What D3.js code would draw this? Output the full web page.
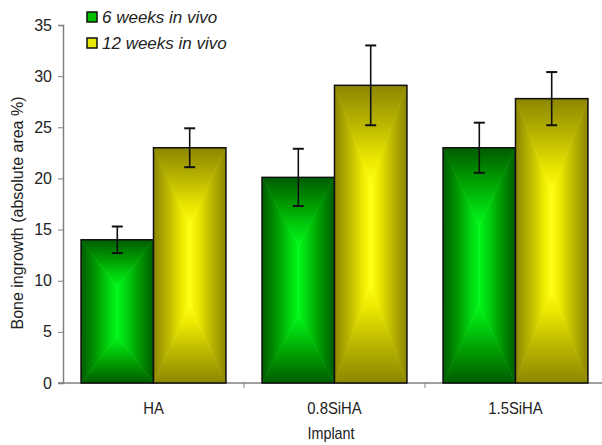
<!DOCTYPE html>
<html>
<head>
<meta charset="utf-8">
<script src="https://cdn.jsdelivr.net/npm/d3@7"></script>
<style>
  body { margin: 0; background: #fff; }
  svg { display: block; font-family: Arial, "Liberation Sans", sans-serif; }
</style>
</head>
<body>
<div id="chart"></div>
<script>
const categories = ['HA', '0.8SiHA', '1.5SiHA'];
const seriesNames = ['6 weeks in vivo', '12 weeks in vivo'];
const weeks6 = [14.0, 20.1, 23.0];
const weeks6Err = [1.3, 2.8, 2.45];
const weeks12 = [23.0, 29.1, 27.8];
const weeks12Err = [1.9, 3.9, 2.6];
const yTicks = [0, 5, 10, 15, 20, 25, 30, 35];

const width = 602, height = 445;
const margin = {left: 63, right: -4, top: 25, bottom: 62};

const svg = d3.select('#chart').append('svg')
    .attr('width', width)
    .attr('height', height);

// gradients: each bar is split in four regions, giving a rectangular "from centre" fill
const palettes = [
  {id: 'g', stops: ['#005c00', '#009c00', '#00d810', '#00f818']},
  {id: 'y', stops: ['#8c8600', '#bdb900', '#eeea00', '#ffff14']}
];
const stopAt = [0, 0.42, 0.78, 1];
const defs = svg.append('defs');
const dirs = {
  left: [0, 0, 1, 0], right: [1, 0, 0, 0],
  top: [0, 0, 0, 1], bottom: [0, 1, 0, 0]
};
palettes.forEach(p => {
  Object.entries(dirs).forEach(([k, v]) => {
    const gr = defs.append('linearGradient')
        .attr('id', `${p.id}-${k}`)
        .attr('x1', v[0]).attr('y1', v[1])
        .attr('x2', v[2]).attr('y2', v[3]);
    p.stops.forEach((c, i) => {
      gr.append('stop').attr('offset', stopAt[i]).attr('stop-color', c);
    });
  });
});

const x = d3.scaleBand()
    .domain(categories)
    .range([margin.left, width - margin.right])
    .paddingInner(0).paddingOuter(0);

const xSub = d3.scaleBand()
    .domain(d3.range(seriesNames.length))
    .range([0, x.bandwidth()])
    .paddingInner(0)
    .paddingOuter(0.25);

const y = d3.scaleLinear()
    .domain([0, 35])
    .range([height - margin.bottom, margin.top]);

// y axis
const yAxis = svg.append('g')
    .attr('transform', `translate(${margin.left},0)`)
    .call(d3.axisLeft(y).tickValues(yTicks).tickSize(5).tickPadding(6));
yAxis.select('.domain').attr('stroke', '#808080').attr('stroke-width', 1.5);
yAxis.selectAll('.tick line').attr('stroke', '#808080');
yAxis.selectAll('.tick text').attr('font-size', 16).attr('fill', '#222')
    .attr('font-family', 'Arial, "Liberation Sans", sans-serif');

// x axis with ticks at category boundaries
const xAxisG = svg.append('g')
    .attr('transform', `translate(0,${y(0)})`);
xAxisG.append('line')
    .attr('x1', margin.left - 5).attr('x2', width)
    .attr('stroke', '#808080').attr('stroke-width', 1.5);
xAxisG.selectAll('line.tk')
    .data(categories.slice(1))
    .join('line')
    .attr('class', 'tk')
    .attr('x1', d => x(d)).attr('x2', d => x(d))
    .attr('y1', 0).attr('y2', 5)
    .attr('stroke', '#808080');
xAxisG.selectAll('text')
    .data(categories)
    .join('text')
    .attr('transform', d => `translate(${x(d) + x.bandwidth() / 2},31) scale(0.93,1)`)
    .attr('text-anchor', 'middle')
    .attr('font-size', 16)
    .attr('fill', '#222')
    .text(d => d);

// axis titles
svg.append('text')
    .attr('transform', 'translate(331,439) scale(0.9,1)')
    .attr('text-anchor', 'middle')
    .attr('font-size', 16).attr('fill', '#222')
    .text('Implant');
svg.append('text')
    .attr('transform', `translate(23,${(y(0) + y(35)) / 2 + 9}) rotate(-90)`)
    .attr('text-anchor', 'middle')
    .attr('font-size', 16).attr('fill', '#222')
    .text('Bone ingrowth (absolute area %)');

// bars
const series = [
  {vals: weeks6, errs: weeks6Err, pal: 'g'},
  {vals: weeks12, errs: weeks12Err, pal: 'y'}
];
series.forEach((s, si) => {
  categories.forEach((c, ci) => {
    const bx = x(c) + xSub(si);
    const bw = xSub.bandwidth();
    const by = y(s.vals[ci]);
    const bh = y(0) - by;
    const cx = bw / 2;
    const a = bh * 0.33; // where the bright centre line starts and ends
    const g = svg.append('g').attr('transform', `translate(${bx},${by})`);
    const parts = [
      ['left', [[0, 0], [cx, a], [cx, bh - a], [0, bh]]],
      ['right', [[bw, 0], [cx, a], [cx, bh - a], [bw, bh]]],
      ['top', [[0, 0], [cx, a], [bw, 0]]],
      ['bottom', [[0, bh], [cx, bh - a], [bw, bh]]]
    ];
    parts.forEach(([k, pts]) => {
      g.append('polygon')
          .attr('points', pts.map(p => p.join(',')).join(' '))
          .attr('fill', `url(#${s.pal}-${k})`)
          .attr('stroke', `url(#${s.pal}-${k})`)
          .attr('stroke-width', 0.6);
    });
    g.append('rect')
        .attr('width', bw).attr('height', bh)
        .attr('fill', 'none')
        .attr('stroke', '#111').attr('stroke-width', 1.5);

    // error bar
    const ex = bx + bw / 2;
    const top = y(s.vals[ci] + s.errs[ci]);
    const bot = y(s.vals[ci] - s.errs[ci]);
    svg.append('line').attr('x1', ex).attr('x2', ex).attr('y1', top).attr('y2', bot)
        .attr('stroke', '#111').attr('stroke-width', 1.6);
    [top, bot].forEach(yy => {
      svg.append('line').attr('x1', ex - 5.5).attr('x2', ex + 5.5).attr('y1', yy).attr('y2', yy)
          .attr('stroke', '#111').attr('stroke-width', 2);
    });
  });
});

// legend
const legend = svg.append('g').attr('transform', 'translate(87,12)');
const legendFill = ['#00c000', '#e8e800'];
seriesNames.forEach((n, i) => {
  const row = legend.append('g').attr('transform', `translate(0,${i * 26})`);
  row.append('rect')
      .attr('width', 10).attr('height', 10)
      .attr('fill', legendFill[i])
      .attr('stroke', '#111').attr('stroke-width', 1.5);
  row.append('text')
      .attr('x', 15).attr('y', 11)
      .attr('font-size', 17).attr('font-style', 'italic').attr('fill', '#222')
      .text(n);
});
</script>
</body>
</html>
